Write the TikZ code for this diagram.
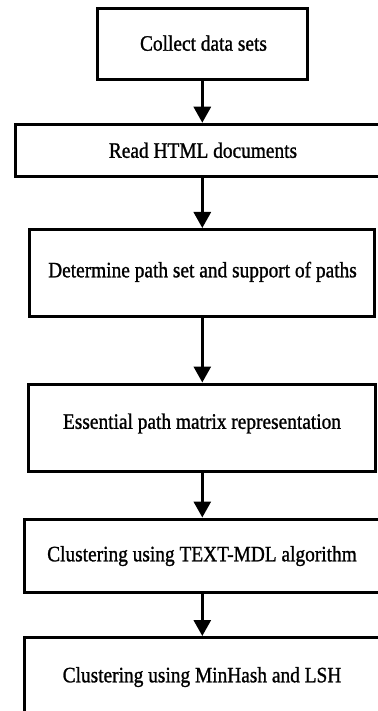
\documentclass[tikz,border=0pt]{standalone}
\usepackage{fontspec}
\setmainfont{Liberation Serif}
\newfontfamily\boxfont{Liberation Serif}[FakeBold=1.2]
\usetikzlibrary{arrows.meta}
\tikzset{
  boxnode/.style={draw=black, line width=3pt, inner sep=0pt, fill=none},
  txt/.style={inner sep=0pt, text height=15pt, text depth=5pt, font=\boxfont\fontsize{22}{26}\selectfont},
  flow/.style={line width=3pt, -{Triangle[width=17pt,length=16pt]}}
}
\newcommand{\sq}[1]{\scalebox{0.88}[1]{#1}}
\begin{document}
\begin{tikzpicture}[x=1pt,y=-1pt]
\useasboundingbox[fill=white] (0,0) rectangle (377,711);
% boxes
\node[boxnode, minimum width=210pt, minimum height=71pt] (b1) at (202.5,44) {};
\node[boxnode, minimum width=376pt, minimum height=52pt] (b2) at (203.5,150.25) {};
\node[boxnode, minimum width=345pt, minimum height=86.5pt] (b3) at (202,272.75) {};
\node[boxnode, minimum width=347pt, minimum height=87pt] (b4) at (202,427.5) {};
\node[boxnode, minimum width=356pt, minimum height=73pt] (b5) at (202.5,555.5) {};
\node[boxnode, minimum width=356pt, minimum height=77pt] (b6) at (202.5,676) {};
% texts
\node[txt] (t1) at (203.5,45.7) {\sq{Collect data sets}};
\node[txt] (t2) at (203,152.8) {\sq{Read HTML documents}};
\node[txt] (t3) at (202.5,272.3) {\sq{Determine path set and support of paths}};
\node[txt] (t4) at (202,423.8) {\sq{Essential path matrix representation}};
\node[txt] (t5) at (202,556.3) {\sq{Clustering using TEXT-MDL algorithm}};
\node[txt] (t6) at (202,677.3) {\sq{Clustering using MinHash and LSH}};
% arrows
\draw[flow] (b1.south -| 202.3,0) -- (b2.north -| 202.3,0);
\draw[flow] (b2.south -| 202.3,0) -- (b3.north -| 202.3,0);
\draw[flow] (b3.south -| 202.3,0) -- (b4.north -| 202.3,0);
\draw[flow] (b4.south -| 202.3,0) -- (b5.north -| 202.3,0);
\draw[flow] (b5.south -| 202.3,0) -- (b6.north -| 202.3,0);
\end{tikzpicture}
\end{document}
